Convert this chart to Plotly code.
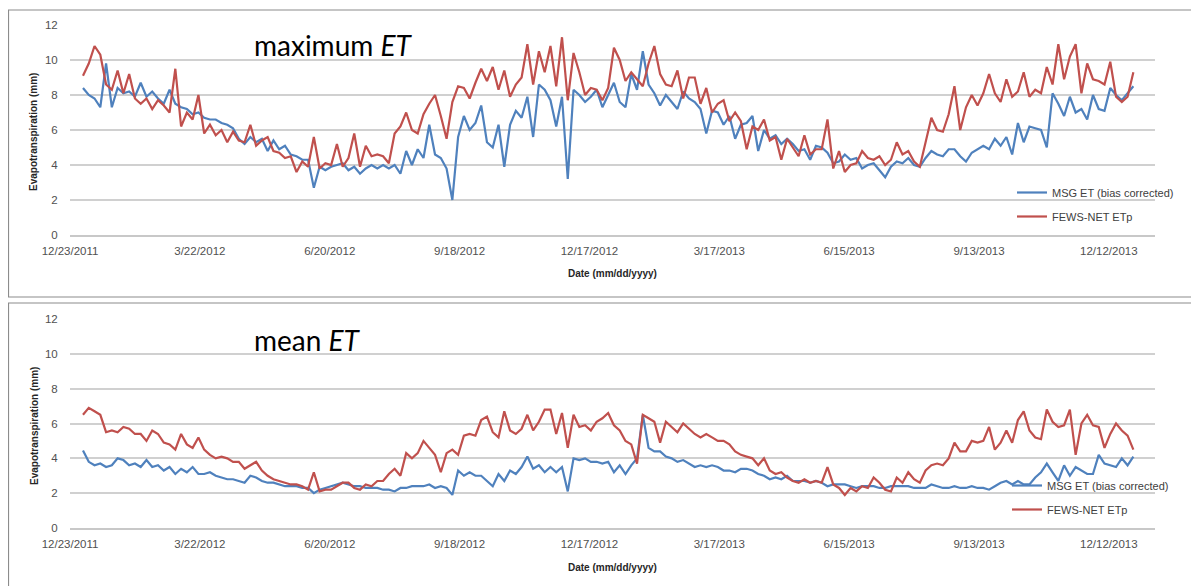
import pandas as pd
import plotly.graph_objects as go

# ---------------- data (values every 4 days, 1 Jan 2012 - 29 Dec 2013) ----------------
dates = pd.date_range("2012-01-01", periods=183, freq="4D")

msg_max = [
    8.4, 8.0, 7.8, 7.3, 9.8, 7.3, 8.4, 8.1, 8.2, 7.9,
    8.7, 7.9, 8.2, 7.8, 7.5, 8.3, 7.5, 7.3, 7.2, 6.9,
    7.0, 6.7, 6.6, 6.6, 6.4, 6.3, 6.1, 5.5, 5.2, 5.6,
    5.3, 5.5, 4.8, 5.4, 4.9, 5.1, 4.6, 4.5, 4.3, 4.3,
    2.7, 3.9, 3.7, 3.9, 4.0, 4.1, 3.7, 3.9, 3.5, 3.8,
    4.0, 3.8, 4.0, 3.8, 4.0, 3.5, 4.8, 4.0, 4.9, 4.4,
    6.3, 4.6, 4.4, 3.8, 2.0, 5.6, 6.8, 6.0, 6.4, 7.4,
    5.3, 5.0, 6.3, 3.9, 6.3, 7.1, 6.7, 7.9, 5.6, 8.6,
    8.3, 7.7, 6.2, 7.9, 3.2, 8.3, 8.0, 7.6, 7.9, 8.3,
    7.3, 8.0, 8.7, 7.6, 7.3, 9.2, 8.3, 10.5, 8.6, 8.1,
    7.4, 8.0, 7.6, 7.2, 8.2, 7.8, 7.6, 7.2, 5.8, 7.1,
    7.0, 6.3, 6.8, 5.5, 6.3, 6.4, 6.8, 4.8, 6.0, 5.5,
    5.7, 5.2, 5.5, 5.2, 4.8, 4.9, 4.3, 5.1, 5.0, 4.7,
    4.1, 4.2, 4.6, 4.3, 4.4, 3.8, 4.0, 4.1, 3.7, 3.3,
    3.9, 4.2, 4.1, 4.4, 4.0, 3.9, 4.4, 4.8, 4.6, 4.5,
    4.9, 4.9, 4.5, 4.2, 4.7, 4.9, 5.1, 4.9, 5.5, 5.1,
    5.6, 4.6, 6.4, 5.3, 6.2, 6.1, 6.0, 5.0, 8.1, 7.5,
    6.8, 7.9, 7.0, 7.2, 6.6, 8.0, 7.2, 7.1, 8.4, 8.0,
    7.7, 8.1, 8.5,
]

fews_max = [
    9.1, 9.8, 10.8, 10.3, 8.6, 8.3, 9.4, 8.1, 9.2, 7.8,
    7.5, 7.8, 7.2, 7.7, 7.4, 7.0, 9.5, 6.2, 7.0, 6.6,
    8.0, 5.8, 6.3, 5.7, 6.0, 5.3, 5.9, 5.4, 5.3, 6.3,
    5.1, 5.4, 5.6, 4.8, 4.7, 4.4, 4.5, 3.6, 4.2, 3.9,
    5.6, 3.8, 4.1, 4.0, 5.2, 3.9, 4.4, 5.8, 3.9, 5.1,
    4.5, 4.6, 4.5, 4.1, 5.8, 6.2, 7.0, 6.0, 5.8, 6.9,
    7.5, 8.0, 6.8, 5.5, 7.6, 8.5, 8.4, 7.8, 8.7, 9.5,
    8.8, 9.6, 8.3, 9.4, 7.9, 8.6, 9.0, 10.9, 8.6, 10.5,
    9.3, 10.8, 8.5, 11.3, 7.7, 10.4, 9.3, 8.0, 8.4, 8.3,
    7.7, 8.4, 10.7, 10.0, 8.8, 9.3, 8.9, 8.5, 9.8, 10.8,
    9.2, 8.6, 8.5, 9.4, 7.8, 9.0, 9.0, 7.5, 8.4, 7.0,
    7.5, 7.7, 6.5, 7.0, 6.5, 4.9, 6.2, 6.0, 6.6, 5.4,
    5.6, 4.3, 5.5, 5.0, 4.5, 5.7, 4.6, 4.9, 4.9, 6.6,
    3.8, 4.8, 3.6, 4.0, 4.1, 4.8, 4.4, 4.3, 4.5, 4.0,
    4.3, 5.3, 4.6, 4.8, 4.2, 3.9, 5.3, 6.7, 6.0, 5.9,
    6.9, 8.5, 6.0, 7.3, 8.0, 7.4, 8.1, 9.2, 8.1, 7.6,
    8.9, 7.9, 8.2, 9.3, 7.9, 8.3, 8.1, 9.6, 8.6, 10.9,
    8.9, 10.2, 10.9, 8.1, 9.8, 8.9, 8.8, 8.6, 9.9, 7.9,
    7.6, 7.9, 9.3,
]

msg_mean = [
    4.45, 3.8, 3.6, 3.7, 3.5, 3.6, 4.0, 3.9, 3.6, 3.7,
    3.5, 3.9, 3.5, 3.6, 3.3, 3.5, 3.1, 3.4, 3.2, 3.5,
    3.1, 3.1, 3.2, 3.0, 2.9, 2.8, 2.8, 2.7, 2.6, 3.0,
    2.9, 2.7, 2.6, 2.6, 2.5, 2.4, 2.4, 2.4, 2.3, 2.3,
    2.0, 2.2, 2.3, 2.4, 2.5, 2.6, 2.5, 2.4, 2.4, 2.3,
    2.3, 2.3, 2.2, 2.2, 2.1, 2.3, 2.3, 2.4, 2.4, 2.4,
    2.5, 2.3, 2.4, 2.3, 1.9, 3.3, 3.0, 3.2, 3.0, 3.0,
    2.7, 2.4, 3.1, 2.7, 3.3, 3.1, 3.5, 4.1, 3.4, 3.6,
    3.2, 3.5, 3.2, 3.5, 2.1, 4.0, 3.9, 4.0, 3.8, 3.8,
    3.7, 3.8, 3.2, 3.6, 3.1, 3.6, 4.0, 6.5, 4.6, 4.4,
    4.4, 4.1, 4.0, 3.8, 3.9, 3.7, 3.5, 3.6, 3.5, 3.6,
    3.5, 3.3, 3.3, 3.2, 3.4, 3.4, 3.3, 3.1, 3.0, 2.8,
    2.9, 2.8, 3.0, 2.7, 2.7, 2.7, 2.6, 2.7, 2.6, 2.4,
    2.5, 2.5, 2.5, 2.4, 2.3, 2.4, 2.4, 2.4, 2.3, 2.3,
    2.4, 2.4, 2.4, 2.4, 2.3, 2.3, 2.3, 2.5, 2.4, 2.3,
    2.3, 2.4, 2.3, 2.3, 2.4, 2.3, 2.3, 2.2, 2.4, 2.6,
    2.7, 2.5, 2.7, 2.5, 2.5, 2.9, 3.2, 3.7, 3.2, 2.7,
    3.6, 3.0, 3.5, 3.3, 3.1, 3.1, 4.2, 3.7, 3.6, 3.5,
    4.0, 3.6, 4.1,
]

fews_mean = [
    6.5, 6.9, 6.7, 6.5, 5.5, 5.6, 5.5, 5.8, 5.7, 5.4,
    5.4, 5.0, 5.6, 5.4, 4.9, 4.8, 4.5, 5.4, 4.8, 4.6,
    5.2, 4.5, 4.2, 4.0, 4.1, 4.0, 3.8, 3.8, 3.4, 3.6,
    3.8, 3.3, 3.0, 2.8, 2.7, 2.6, 2.5, 2.5, 2.4, 2.2,
    3.2, 2.1, 2.2, 2.2, 2.4, 2.6, 2.6, 2.3, 2.2, 2.5,
    2.4, 2.7, 2.7, 3.1, 3.4, 3.0, 4.3, 4.0, 4.3, 5.0,
    4.6, 4.2, 3.2, 4.3, 4.5, 4.2, 5.3, 5.4, 5.3, 6.2,
    6.4, 5.5, 5.2, 6.7, 5.6, 5.4, 5.7, 6.5, 5.6, 6.1,
    6.8, 6.8, 5.4, 6.6, 4.6, 6.5, 5.8, 5.9, 5.6, 6.1,
    6.3, 6.6, 5.9, 5.6, 5.0, 4.8, 3.7, 6.5, 6.3, 6.1,
    4.9, 6.1, 5.8, 5.5, 6.0, 5.7, 5.4, 5.2, 5.4, 5.2,
    5.0, 5.0, 4.8, 4.4, 4.2, 4.1, 4.0, 3.6, 4.0, 3.3,
    3.1, 3.2, 2.9, 2.7, 2.6, 2.8, 2.6, 2.7, 2.6, 3.5,
    2.5, 2.3, 1.9, 2.3, 2.1, 2.4, 2.3, 2.9, 2.6, 2.2,
    2.1, 2.9, 2.6, 3.2, 2.8, 2.6, 3.3, 3.6, 3.7, 3.6,
    4.0, 4.9, 4.4, 4.4, 5.0, 4.9, 5.0, 5.8, 4.5, 4.9,
    5.6, 4.9, 6.2, 6.7, 5.6, 5.2, 5.1, 6.8, 6.1, 5.8,
    5.9, 6.8, 4.2, 6.0, 6.5, 5.9, 5.8, 4.6, 5.4, 6.0,
    5.6, 5.3, 4.5,
]

for s in (msg_max, fews_max, msg_mean, fews_mean):
    assert len(s) == len(dates), len(s)

series_names = ["MSG ET (bias corrected)", "FEWS-NET ETp"]
panel_titles = ["maximum <i>ET</i>", "mean <i>ET</i>"]
y_title = "Evapotranspiration (mm)"
x_title = "Date (mm/dd/yyyy)"
y_ticks = [0, 2, 4, 6, 8, 10, 12]

# ---------------- layout helpers (window pixel -> paper) ----------------
# the page body has an 8px margin, so the figure origin sits at (8, 8) in the window
OFF = 8
W, H = 1199 - OFF, 586 - OFF
def fx(x):
    return (x - OFF) / W
def fy(y):
    return 1 - (y - OFF) / H

BLUE = "#4F81BD"
RED = "#C0504D"
TXT = "#505050"
FONT = "Liberation Sans"

fig = go.Figure()

panels = [
    dict(blue=msg_max, red=fews_max, xa="x", ya="y", leg="legend"),
    dict(blue=msg_mean, red=fews_mean, xa="x2", ya="y2", leg="legend2"),
]
for p in panels:
    fig.add_trace(go.Scatter(x=dates, y=p["blue"], mode="lines", name=series_names[0],
                             line=dict(color=BLUE, width=2.2), xaxis=p["xa"], yaxis=p["ya"],
                             legend=p["leg"], legendgroup=p["leg"] + "a"))
    fig.add_trace(go.Scatter(x=dates, y=p["red"], mode="lines", name=series_names[1],
                             line=dict(color=RED, width=2.2), xaxis=p["xa"], yaxis=p["ya"],
                             legend=p["leg"], legendgroup=p["leg"] + "b"))

xaxis_common = dict(
    type="date", range=["2011-12-23", "2014-01-13"], tick0="2011-12-23",
    dtick=90 * 86400000, tickformat="%-m/%-d/%Y", showgrid=False,
    showline=True, linecolor="#c8c8c8", linewidth=1.5, zeroline=False,
    ticks="outside", ticklen=4, tickcolor="rgba(0,0,0,0)", automargin=False,
    tickfont=dict(family=FONT, size=11.5, color=TXT), domain=[fx(70), fx(1155)],
)
yaxis_common = dict(
    range=[0, 12], tickvals=y_ticks, showgrid=True, gridcolor="#d0d0d0", gridwidth=1.5,
    zeroline=False, showline=False, ticks="outside", ticklen=9, tickcolor="rgba(0,0,0,0)",
    automargin=False, tickfont=dict(family=FONT, size=11.5, color=TXT),
)

legend_common = dict(xanchor="left", yanchor="top", bgcolor="rgba(0,0,0,0)",
                     font=dict(family=FONT, size=11, color="#404040"),
                     tracegroupgap=5, itemwidth=30)

fig.update_layout(
    width=W, height=H, margin=dict(l=0, r=0, t=0, b=0, autoexpand=False),
    paper_bgcolor="white", plot_bgcolor="white",
    xaxis=dict(xaxis_common, anchor="y"),
    yaxis=dict(yaxis_common, domain=[fy(235), fy(25)], anchor="x"),
    xaxis2=dict(xaxis_common, anchor="y2"),
    yaxis2=dict(yaxis_common, domain=[fy(528), fy(319)], anchor="x2"),
    legend=dict(legend_common, x=fx(1012), y=fy(178)),
    legend2=dict(legend_common, x=fx(1007), y=fy(471)),
    showlegend=True,
)

# panel frames
fig.add_shape(type="rect", xref="paper", yref="paper", x0=fx(8.5), x1=fx(1197), y0=fy(297), y1=fy(10),
              line=dict(color="#8c8c8c", width=1.2), fillcolor="rgba(0,0,0,0)", layer="below")
fig.add_shape(type="rect", xref="paper", yref="paper", x0=fx(8.5), x1=fx(1197), y0=fy(600), y1=fy(303),
              line=dict(color="#8c8c8c", width=1.2), fillcolor="rgba(0,0,0,0)", layer="below")

# titles and axis titles
for title, ty, yt, xt in [(panel_titles[0], 45, 132, 273), (panel_titles[1], 340, 426, 567)]:
    fig.add_annotation(text=title, xref="paper", yref="paper", x=fx(252), y=fy(ty),
                       xanchor="left", yanchor="middle", showarrow=False,
                       font=dict(family="Lato", size=28, color="black"))
    fig.add_annotation(text="<b>" + y_title + "</b>", xref="paper", yref="paper", x=fx(34), y=fy(yt),
                       xanchor="center", yanchor="middle", textangle=-90, showarrow=False,
                       font=dict(family=FONT, size=10, color="#262626"))
    fig.add_annotation(text="<b>" + x_title + "</b>", xref="paper", yref="paper", x=fx(612), y=fy(xt),
                       xanchor="center", yanchor="middle", showarrow=False,
                       font=dict(family=FONT, size=10, color="#262626"))

fig.write_html("out.html")
